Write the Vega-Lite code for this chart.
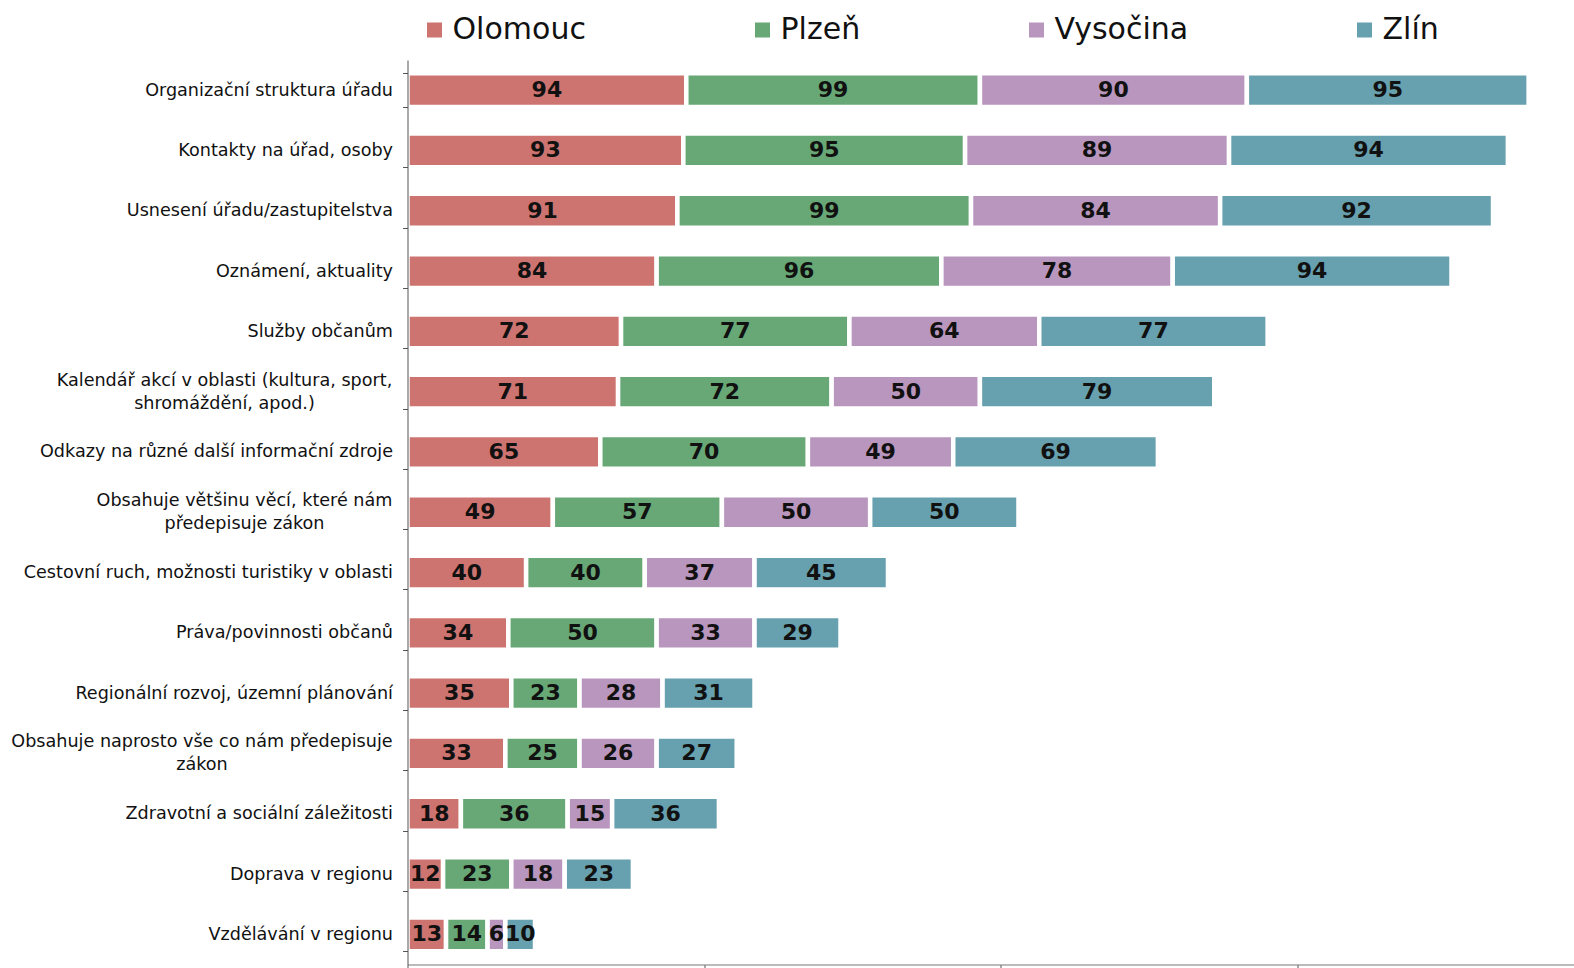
{
  "$schema": "https://vega.github.io/schema/vega-lite/v6.json",
  "width": 1166.5,
  "height": 904.5,
  "autosize": "none",
  "padding": {"left": 407.5, "top": 60, "right": 0, "bottom": 3.5},
  "background": "white",
  "config": {"view": {"stroke": null}, "font": "DejaVu Sans"},
  "data": {"values": [
    {"cat": "Organizační struktura úřadu", "region": "Olomouc", "v": 94},
    {"cat": "Organizační struktura úřadu", "region": "Plzeň", "v": 99},
    {"cat": "Organizační struktura úřadu", "region": "Vysočina", "v": 90},
    {"cat": "Organizační struktura úřadu", "region": "Zlín", "v": 95},
    {"cat": "Kontakty na úřad, osoby", "region": "Olomouc", "v": 93},
    {"cat": "Kontakty na úřad, osoby", "region": "Plzeň", "v": 95},
    {"cat": "Kontakty na úřad, osoby", "region": "Vysočina", "v": 89},
    {"cat": "Kontakty na úřad, osoby", "region": "Zlín", "v": 94},
    {"cat": "Usnesení úřadu/zastupitelstva", "region": "Olomouc", "v": 91},
    {"cat": "Usnesení úřadu/zastupitelstva", "region": "Plzeň", "v": 99},
    {"cat": "Usnesení úřadu/zastupitelstva", "region": "Vysočina", "v": 84},
    {"cat": "Usnesení úřadu/zastupitelstva", "region": "Zlín", "v": 92},
    {"cat": "Oznámení, aktuality", "region": "Olomouc", "v": 84},
    {"cat": "Oznámení, aktuality", "region": "Plzeň", "v": 96},
    {"cat": "Oznámení, aktuality", "region": "Vysočina", "v": 78},
    {"cat": "Oznámení, aktuality", "region": "Zlín", "v": 94},
    {"cat": "Služby občanům", "region": "Olomouc", "v": 72},
    {"cat": "Služby občanům", "region": "Plzeň", "v": 77},
    {"cat": "Služby občanům", "region": "Vysočina", "v": 64},
    {"cat": "Služby občanům", "region": "Zlín", "v": 77},
    {"cat": "Kalendář akcí v oblasti (kultura, sport, shromáždění, apod.)", "region": "Olomouc", "v": 71},
    {"cat": "Kalendář akcí v oblasti (kultura, sport, shromáždění, apod.)", "region": "Plzeň", "v": 72},
    {"cat": "Kalendář akcí v oblasti (kultura, sport, shromáždění, apod.)", "region": "Vysočina", "v": 50},
    {"cat": "Kalendář akcí v oblasti (kultura, sport, shromáždění, apod.)", "region": "Zlín", "v": 79},
    {"cat": "Odkazy na různé další informační zdroje", "region": "Olomouc", "v": 65},
    {"cat": "Odkazy na různé další informační zdroje", "region": "Plzeň", "v": 70},
    {"cat": "Odkazy na různé další informační zdroje", "region": "Vysočina", "v": 49},
    {"cat": "Odkazy na různé další informační zdroje", "region": "Zlín", "v": 69},
    {"cat": "Obsahuje většinu věcí, které nám předepisuje zákon", "region": "Olomouc", "v": 49},
    {"cat": "Obsahuje většinu věcí, které nám předepisuje zákon", "region": "Plzeň", "v": 57},
    {"cat": "Obsahuje většinu věcí, které nám předepisuje zákon", "region": "Vysočina", "v": 50},
    {"cat": "Obsahuje většinu věcí, které nám předepisuje zákon", "region": "Zlín", "v": 50},
    {"cat": "Cestovní ruch, možnosti turistiky v oblasti", "region": "Olomouc", "v": 40},
    {"cat": "Cestovní ruch, možnosti turistiky v oblasti", "region": "Plzeň", "v": 40},
    {"cat": "Cestovní ruch, možnosti turistiky v oblasti", "region": "Vysočina", "v": 37},
    {"cat": "Cestovní ruch, možnosti turistiky v oblasti", "region": "Zlín", "v": 45},
    {"cat": "Práva/povinnosti občanů", "region": "Olomouc", "v": 34},
    {"cat": "Práva/povinnosti občanů", "region": "Plzeň", "v": 50},
    {"cat": "Práva/povinnosti občanů", "region": "Vysočina", "v": 33},
    {"cat": "Práva/povinnosti občanů", "region": "Zlín", "v": 29},
    {"cat": "Regionální rozvoj, územní plánování", "region": "Olomouc", "v": 35},
    {"cat": "Regionální rozvoj, územní plánování", "region": "Plzeň", "v": 23},
    {"cat": "Regionální rozvoj, územní plánování", "region": "Vysočina", "v": 28},
    {"cat": "Regionální rozvoj, územní plánování", "region": "Zlín", "v": 31},
    {"cat": "Obsahuje naprosto vše co nám předepisuje zákon", "region": "Olomouc", "v": 33},
    {"cat": "Obsahuje naprosto vše co nám předepisuje zákon", "region": "Plzeň", "v": 25},
    {"cat": "Obsahuje naprosto vše co nám předepisuje zákon", "region": "Vysočina", "v": 26},
    {"cat": "Obsahuje naprosto vše co nám předepisuje zákon", "region": "Zlín", "v": 27},
    {"cat": "Zdravotní a sociální záležitosti", "region": "Olomouc", "v": 18},
    {"cat": "Zdravotní a sociální záležitosti", "region": "Plzeň", "v": 36},
    {"cat": "Zdravotní a sociální záležitosti", "region": "Vysočina", "v": 15},
    {"cat": "Zdravotní a sociální záležitosti", "region": "Zlín", "v": 36},
    {"cat": "Doprava v regionu", "region": "Olomouc", "v": 12},
    {"cat": "Doprava v regionu", "region": "Plzeň", "v": 23},
    {"cat": "Doprava v regionu", "region": "Vysočina", "v": 18},
    {"cat": "Doprava v regionu", "region": "Zlín", "v": 23},
    {"cat": "Vzdělávání v regionu", "region": "Olomouc", "v": 13},
    {"cat": "Vzdělávání v regionu", "region": "Plzeň", "v": 14},
    {"cat": "Vzdělávání v regionu", "region": "Vysočina", "v": 6},
    {"cat": "Vzdělávání v regionu", "region": "Zlín", "v": 10}
  ]},
  "transform": [
    {"stack": "v", "groupby": ["cat"], "sort": [{"field": "region", "order": "ascending"}], "as": ["v0", "v1"]},
    {"calculate": "(datum.v0 + datum.v1) / 2", "as": "mid"}
  ],
  "encoding": {
    "y": {
      "field": "cat",
      "type": "nominal",
      "sort": [
        "Organizační struktura úřadu",
        "Kontakty na úřad, osoby",
        "Usnesení úřadu/zastupitelstva",
        "Oznámení, aktuality",
        "Služby občanům",
        "Kalendář akcí v oblasti (kultura, sport, shromáždění, apod.)",
        "Odkazy na různé další informační zdroje",
        "Obsahuje většinu věcí, které nám předepisuje zákon",
        "Cestovní ruch, možnosti turistiky v oblasti",
        "Práva/povinnosti občanů",
        "Regionální rozvoj, územní plánování",
        "Obsahuje naprosto vše co nám předepisuje zákon",
        "Zdravotní a sociální záležitosti",
        "Doprava v regionu",
        "Vzdělávání v regionu"
      ],
      "scale": {"paddingInner": 0.44, "paddingOuter": 0.22},
      "axis": {
        "title": null,
        "zindex": 1,
        "domainColor": "#555555",
        "tickColor": "#555555",
        "tickSize": 5,
        "tickBand": "extent",
        "labelFontSize": 17.6,
        "labelColor": "#111111",
        "labelLimit": 500,
        "labelLineHeight": 23,
        "labelAlign": {"condition": {"test": "datum.value == 'Kalendář akcí v oblasti (kultura, sport, shromáždění, apod.)' || datum.value == 'Obsahuje většinu věcí, které nám předepisuje zákon' || datum.value == 'Obsahuje naprosto vše co nám předepisuje zákon'", "value": "center"}, "value": "right"},
        "labelPadding": {"condition": [
          {"test": "datum.value == 'Kalendář akcí v oblasti (kultura, sport, shromáždění, apod.)'", "value": 178.5},
          {"test": "datum.value == 'Obsahuje většinu věcí, které nám předepisuje zákon'", "value": 158.5},
          {"test": "datum.value == 'Obsahuje naprosto vše co nám předepisuje zákon'", "value": 201}
        ], "value": 10},
        "labelOffset": {"condition": {"test": "datum.value == 'Kalendář akcí v oblasti (kultura, sport, shromáždění, apod.)' || datum.value == 'Obsahuje většinu věcí, které nám předepisuje zákon' || datum.value == 'Obsahuje naprosto vše co nám předepisuje zákon'", "value": -11.5}, "value": 0},
        "labelExpr": "datum.value == 'Kalendář akcí v oblasti (kultura, sport, shromáždění, apod.)' ? ['Kalendář akcí v oblasti (kultura, sport,', 'shromáždění, apod.)'] : datum.value == 'Obsahuje většinu věcí, které nám předepisuje zákon' ? ['Obsahuje většinu věcí, které nám', 'předepisuje zákon'] : datum.value == 'Obsahuje naprosto vše co nám předepisuje zákon' ? ['Obsahuje naprosto vše co nám předepisuje', 'zákon'] : datum.value"
      }
    }
  },
  "layer": [
    {
      "mark": {"type": "bar", "stroke": "white", "strokeWidth": 4.5},
      "encoding": {
        "x": {
          "field": "v0",
          "type": "quantitative",
          "scale": {"domain": [0, 393.3], "nice": false, "zero": true},
          "axis": {
            "title": null,
            "zindex": 1,
            "labels": false,
            "grid": false,
            "values": [0, 100, 200, 300],
            "domainColor": "#777777",
            "tickColor": "#555555",
            "tickSize": 6
          }
        },
        "x2": {"field": "v1"},
        "color": {
          "field": "region",
          "type": "nominal",
          "scale": {
            "domain": ["Olomouc", "Plzeň", "Vysočina", "Zlín"],
            "range": ["#CD7470", "#67A876", "#B996BE", "#67A0AE"]
          },
          "legend": {
            "title": null,
            "orient": "none",
            "legendX": 12,
            "legendY": -45,
            "direction": "horizontal",
            "columns": 4,
            "gridAlign": "none",
            "columnPadding": 161,
            "symbolType": "square",
            "symbolSize": 225,
            "symbolStrokeWidth": 0,
            "labelFontSize": 30,
            "labelColor": "#111111",
            "labelOffset": 3,
            "labelLimit": 400
          }
        }
      }
    },
    {
      "mark": {"type": "text", "fontWeight": "bold", "fontSize": 22, "color": "#111111", "baseline": "middle", "align": "center"},
      "encoding": {
        "x": {"field": "mid", "type": "quantitative"},
        "text": {"field": "v", "type": "quantitative"}
      }
    }
  ]
}
